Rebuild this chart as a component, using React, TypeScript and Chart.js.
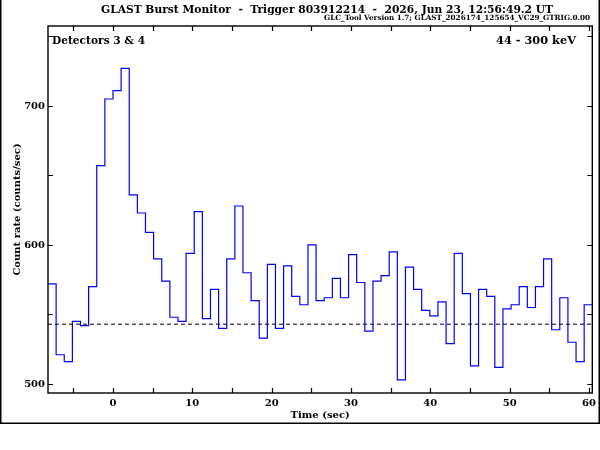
import { useEffect, useRef } from 'react';
import { Chart, registerables, type Plugin } from 'chart.js';

Chart.register(...registerables);

// 1.024 s bins, count rate in counts/sec (detectors 3 & 4, 44-300 keV)
const BIN_WIDTH = 1.024;
const FIRST_EDGE = -8.192;
const rates = [
  572, 521, 516, 545, 542, 570, 657, 705, 711, 727,
  636, 623, 609, 590, 574, 548, 545, 594, 624, 547,
  568, 540, 590, 628, 580, 560, 533, 586, 540, 585,
  563, 557, 600, 560, 562, 576, 562, 593, 573, 538,
  574, 578, 595, 503, 584, 568, 553, 549, 559, 529,
  594, 565, 513, 568, 563, 512, 554, 557, 570, 555,
  570, 590, 539, 562, 530, 516, 557,
];
const BACKGROUND = 543;

const xTicks = [-5, 0, 5, 10, 15, 20, 25, 30, 35, 40, 45, 50, 55, 60];
const xLabels = [0, 10, 20, 30, 40, 50, 60];
const yTicks = [500, 550, 600, 650, 700, 750];
const yLabels = [500, 600, 700];

const X_MIN = FIRST_EDGE;
const X_MAX = FIRST_EDGE + rates.length * BIN_WIDTH;
const Y_MIN = 493.5;
const Y_MAX = 757.5;

const TITLE = 'GLAST Burst Monitor  -  Trigger 803912214  -  2026, Jun 23, 12:56:49.2 UT';
const SUBTITLE = 'GLC_Tool Version 1.7; GLAST_2026174_125654_VC29_GTRIG.0.00';
const DETECTORS = 'Detectors 3 & 4';
const ENERGY = '44 - 300 keV';

const FAMILY = '"DejaVu Serif", "Liberation Serif", serif';

function fitFont(ctx: CanvasRenderingContext2D, text: string, width: number) {
  ctx.font = `bold 10px ${FAMILY}`;
  const size = (10 * width) / ctx.measureText(text).width;
  return `bold ${size.toFixed(2)}px ${FAMILY}`;
}

const gbmFrame: Plugin<'line'> = {
  id: 'gbmFrame',
  beforeDraw(chart) {
    const { ctx, width, height } = chart;
    ctx.save();
    ctx.fillStyle = '#fff';
    ctx.fillRect(0, 0, width, height);
    ctx.restore();
  },
  afterDraw(chart) {
    const { ctx, chartArea: a } = chart;
    const xs = chart.scales.x;
    const ys = chart.scales.y;
    ctx.save();
    ctx.strokeStyle = '#000';
    ctx.lineWidth = 1.4;
    ctx.strokeRect(a.left, a.top, a.right - a.left, a.bottom - a.top);

    // inward ticks on all four sides
    ctx.lineWidth = 1.2;
    ctx.beginPath();
    for (const v of xTicks) {
      const px = Math.round(xs.getPixelForValue(v)) + 0.5;
      ctx.moveTo(px, a.bottom);
      ctx.lineTo(px, a.bottom - 5);
      ctx.moveTo(px, a.top);
      ctx.lineTo(px, a.top + 5);
    }
    for (const v of yTicks) {
      const py = Math.round(ys.getPixelForValue(v)) + 0.5;
      ctx.moveTo(a.left, py);
      ctx.lineTo(a.left + 5, py);
      ctx.moveTo(a.right, py);
      ctx.lineTo(a.right - 5, py);
    }
    ctx.stroke();

    // outer figure frame
    ctx.lineWidth = 1.5;
    ctx.beginPath();
    ctx.moveTo(0.75, 0);
    ctx.lineTo(0.75, 423.25);
    ctx.lineTo(599.25, 423.25);
    ctx.lineTo(599.25, 0);
    ctx.stroke();

    // texts
    ctx.fillStyle = '#000';
    ctx.textBaseline = 'middle';
    ctx.textAlign = 'center';
    ctx.font = fitFont(ctx, TITLE, 452);
    ctx.fillText(TITLE, 327, 10);

    ctx.textAlign = 'right';
    ctx.textBaseline = 'alphabetic';
    ctx.font = fitFont(ctx, SUBTITLE, 266);
    ctx.fillText(SUBTITLE, 590, 19.5);

    ctx.textBaseline = 'middle';
    ctx.textAlign = 'left';
    ctx.font = fitFont(ctx, DETECTORS, 93);
    ctx.fillText(DETECTORS, 52, 41);

    ctx.textAlign = 'right';
    ctx.font = fitFont(ctx, ENERGY, 80);
    ctx.fillText(ENERGY, 576, 41);
    ctx.restore();
  },
};

export default function App() {
  const canvasRef = useRef<HTMLCanvasElement>(null);

  useEffect(() => {
    document.body.style.margin = '0';
    if (!canvasRef.current) return;

    const steps = rates.map((r, i) => ({ x: FIRST_EDGE + i * BIN_WIDTH, y: r }));
    steps.push({ x: X_MAX, y: rates[rates.length - 1] });

    const chart = new Chart(canvasRef.current, {
      type: 'line',
      data: {
        datasets: [
          {
            data: [
              { x: X_MIN, y: BACKGROUND },
              { x: X_MAX, y: BACKGROUND },
            ],
            borderColor: '#000',
            borderWidth: 1,
            borderDash: [4, 3],
            pointRadius: 0,
          },
          {
            data: steps,
            stepped: 'before',
            borderColor: '#0000ff',
            borderWidth: 1.2,
            pointRadius: 0,
          },
        ],
      },
      options: {
        responsive: false,
        animation: false,
        events: [],
        layout: { autoPadding: false, padding: { left: 0, top: 26, right: 7, bottom: 27 } },
        plugins: { legend: { display: false }, tooltip: { enabled: false } },
        scales: {
          x: {
            type: 'linear',
            min: X_MIN,
            max: X_MAX,
            afterBuildTicks: (s) => {
              s.ticks = xLabels.map((v) => ({ value: v }));
            },
            afterFit: (s) => {
              s.height = 30;
            },
            grid: { display: false, drawTicks: false },
            border: { display: false },
            ticks: {
              padding: 4,
              autoSkip: false,
              maxRotation: 0,
              color: '#000',
              font: { family: FAMILY, size: 10, weight: 'bold' },
              callback: (v) => String(v),
            },
            title: {
              display: true,
              text: 'Time (sec)',
              color: '#000',
              font: { family: FAMILY, size: 10, weight: 'bold' },
              padding: { top: 0, bottom: 2 },
            },
          },
          y: {
            type: 'linear',
            min: Y_MIN,
            max: Y_MAX,
            afterBuildTicks: (s) => {
              s.ticks = yLabels.map((v) => ({ value: v }));
            },
            afterFit: (s) => {
              s.width = 48;
            },
            grid: { display: false, drawTicks: false },
            border: { display: false },
            ticks: {
              padding: 3,
              color: '#000',
              font: { family: FAMILY, size: 10, weight: 'bold' },
              callback: (v) => String(v),
            },
            title: {
              display: true,
              text: 'Count rate (counts/sec)',
              color: '#000',
              font: { family: FAMILY, size: 10, weight: 'bold' },
              padding: { top: 11, bottom: 0 },
            },
          },
        },
      },
      plugins: [gbmFrame],
    });
    return () => chart.destroy();
  }, []);

  return (
    <div style={{ width: 600, height: 450 }}>
      <canvas ref={canvasRef} width={600} height={450} />
    </div>
  );
}
